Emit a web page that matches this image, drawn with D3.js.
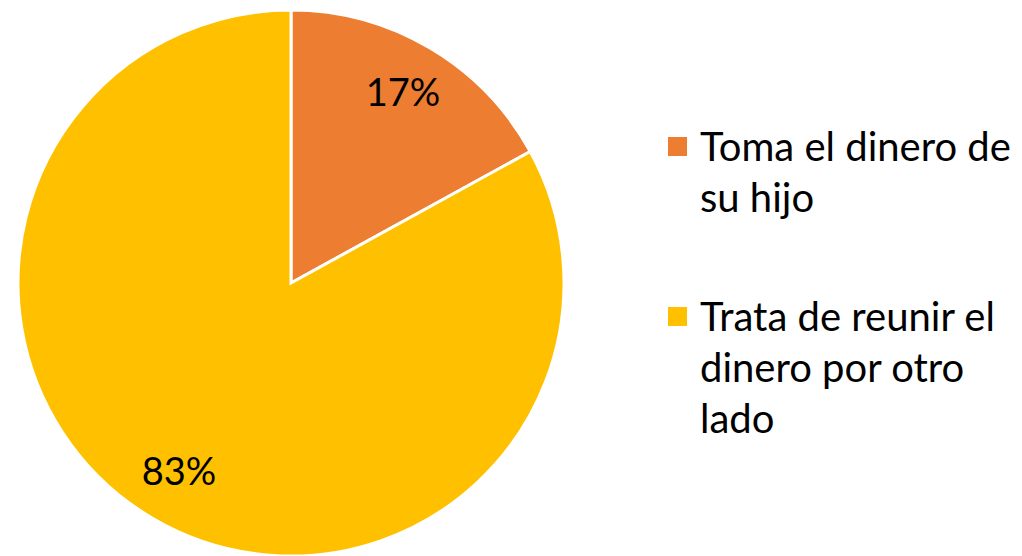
<!DOCTYPE html>
<html><head><meta charset="utf-8">
<script src="https://cdn.jsdelivr.net/npm/d3@7"></script>
<style>body{margin:0;background:#fff}svg{display:block}</style>
</head><body>
<svg id="c" width="1022" height="556"></svg>
<script>
const categories = ["Toma el dinero de su hijo", "Trata de reunir el dinero por otro lado"];
const values = [17, 83];
const valueLabels = ["17%", "83%"];
const legendLines = [["Toma el dinero de", "su hijo"], ["Trata de reunir el", "dinero por otro", "lado"]];
const colors = ["#ED7D31", "#FFC000"];

const svg = d3.select("#c");
const cx = 291, cy = 283, R = 273;
const font = "Lato, 'Open Sans', sans-serif";
const pie = d3.pie().sort(null).value(d => d)(values);
const arc = d3.arc().innerRadius(0).outerRadius(R);
const labelArc = d3.arc().innerRadius(220).outerRadius(220);
const g = svg.append("g").attr("transform", `translate(${cx},${cy})`);
g.selectAll("path").data(pie).join("path")
  .attr("d", arc).attr("fill", (d, i) => colors[i])
  .attr("stroke", "#fff").attr("stroke-width", 3).attr("stroke-linejoin", "miter");
g.selectAll("text").data(pie).join("text")
  .attr("transform", d => `translate(${labelArc.centroid(d)})`)
  .attr("text-anchor", "middle").attr("dy", "0.33em")
  .attr("font-family", font).attr("font-size", 38).attr("fill", "#000")
  .text((d, i) => valueLabels[i]);

const legendY = d3.scaleOrdinal().domain(categories).range([147, 317]);
const lg = svg.append("g");
categories.forEach((c, i) => {
  const y = legendY(c);
  lg.append("rect").attr("x", 668).attr("y", y - 10).attr("width", 19).attr("height", 19).attr("fill", colors[i]);
  const t = lg.append("text").attr("font-family", font).attr("font-size", 40).attr("fill", "#000");
  legendLines[i].forEach((ln, j) => {
    t.append("tspan").attr("x", 700).attr("y", y + 14 + j * 51).text(ln);
  });
});
</script>
</body></html>
